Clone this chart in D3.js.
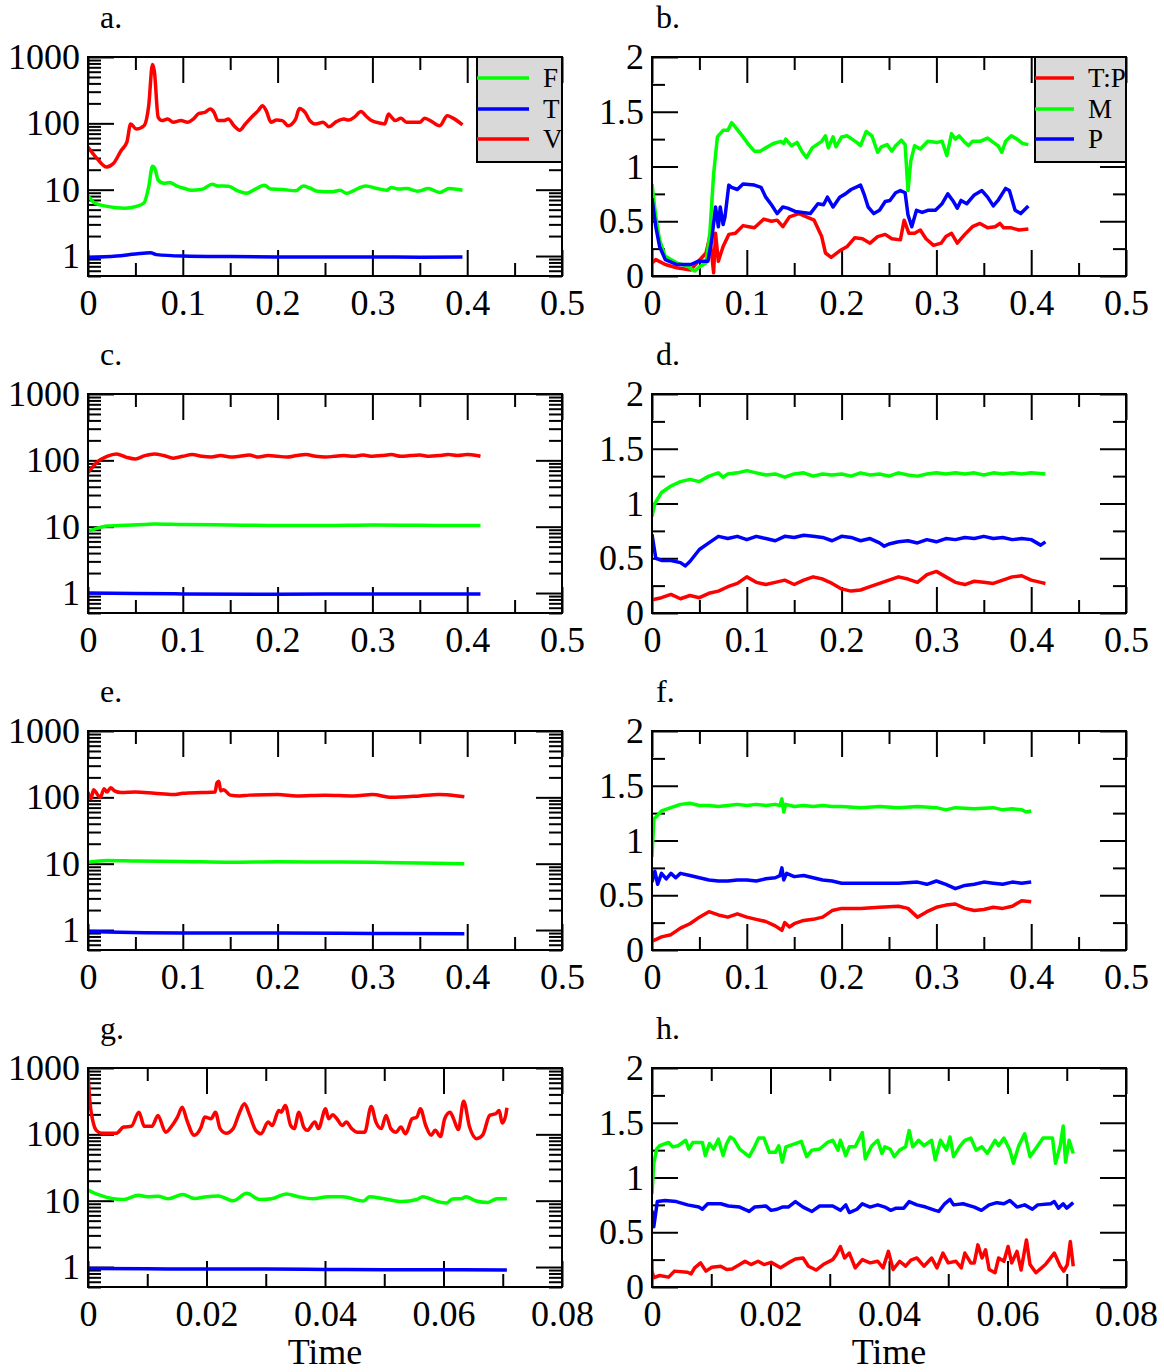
<!DOCTYPE html>
<html><head><meta charset="utf-8">
<script src="https://cdn.jsdelivr.net/npm/d3@7"></script>
<style>html,body{margin:0;padding:0;background:#fff}svg{display:block}</style>
</head><body>
<script>
// ---------- tick labels ----------
const xTicksLong = [0, 0.1, 0.2, 0.3, 0.4, 0.5];
const xTicksShort = [0, 0.02, 0.04, 0.06, 0.08];
const logTicks = [1, 10, 100, 1000];
const linTicks = [0, 0.5, 1, 1.5, 2];
const panelLetters = ["a.", "b.", "c.", "d.", "e.", "f.", "g.", "h."];
const legendA = ["F", "T", "V"];
const legendB = ["T:P", "M", "P"];
const xTitle = "Time";

// ---------- panel a ----------
const aV = [[0,44],[0.01,29],[0.0195,22],[0.027,25],[0.035,39],[0.041,52],[0.045,98],[0.051,82],[0.059,92],[0.064,183],[0.068,768],[0.070,611],[0.074,124],[0.078,110],[0.084,116],[0.090,104],[0.098,110],[0.105,104],[0.111,116],[0.117,141],[0.123,146],[0.129,164],[0.133,146],[0.137,110],[0.143,110],[0.148,116],[0.154,92],[0.160,79],[0.166,98],[0.174,130],[0.180,158],[0.184,184],[0.188,155],[0.193,104],[0.199,112],[0.205,110],[0.211,92],[0.219,116],[0.223,167],[0.229,146],[0.234,110],[0.240,98],[0.248,104],[0.254,89],[0.262,106],[0.270,116],[0.275,112],[0.281,124],[0.288,151],[0.293,130],[0.299,110],[0.309,100],[0.313,98],[0.317,138],[0.320,125],[0.324,110],[0.330,119],[0.336,104],[0.344,104],[0.350,104],[0.355,119],[0.361,110],[0.371,92],[0.379,130],[0.385,120],[0.395,95]];
const aF = [[0,8.2],[0.007,6.3],[0.02,5.6],[0.039,5.25],[0.051,5.6],[0.059,6.3],[0.064,11],[0.068,22.5],[0.071,20],[0.074,14],[0.080,12.5],[0.086,12.8],[0.094,11.3],[0.102,10.4],[0.109,9.8],[0.121,10.2],[0.131,12.1],[0.137,11.4],[0.148,11.3],[0.158,9.6],[0.167,8.8],[0.176,10.1],[0.186,11.7],[0.193,10.2],[0.205,10.1],[0.219,9.6],[0.227,11.4],[0.234,10.6],[0.242,9.5],[0.258,9.3],[0.266,9.8],[0.273,8.8],[0.281,9.8],[0.293,11.4],[0.305,10.4],[0.315,9.8],[0.320,10.8],[0.328,10.2],[0.336,10.4],[0.348,9.5],[0.359,10.4],[0.371,9.1],[0.381,10.4],[0.395,9.8]];
const aT = [[0,0.94],[0.03,1.0],[0.05,1.07],[0.066,1.12],[0.072,1.05],[0.1,1.0],[0.15,0.98],[0.2,0.97],[0.3,0.97],[0.35,0.96],[0.395,0.97]];

// ---------- panel b ----------
const bM = [[0,0.84],[0.004,0.54],[0.008,0.33],[0.014,0.18],[0.026,0.12],[0.037,0.09],[0.045,0.045],[0.051,0.09],[0.057,0.12],[0.061,0.39],[0.065,0.93],[0.069,1.27],[0.075,1.33],[0.080,1.33],[0.084,1.40],[0.088,1.36],[0.096,1.27],[0.102,1.20],[0.108,1.14],[0.114,1.14],[0.120,1.17],[0.128,1.21],[0.136,1.23],[0.139,1.21],[0.141,1.25],[0.147,1.19],[0.153,1.22],[0.158,1.14],[0.163,1.08],[0.169,1.17],[0.179,1.23],[0.183,1.28],[0.186,1.17],[0.191,1.27],[0.194,1.18],[0.200,1.27],[0.206,1.28],[0.216,1.22],[0.220,1.19],[0.226,1.32],[0.232,1.28],[0.238,1.13],[0.242,1.18],[0.248,1.20],[0.253,1.14],[0.257,1.19],[0.263,1.24],[0.267,1.20],[0.270,0.78],[0.273,1.05],[0.277,1.19],[0.283,1.16],[0.291,1.23],[0.301,1.22],[0.306,1.23],[0.311,1.10],[0.316,1.30],[0.320,1.25],[0.324,1.28],[0.330,1.22],[0.334,1.19],[0.338,1.23],[0.346,1.23],[0.354,1.26],[0.360,1.22],[0.365,1.19],[0.369,1.13],[0.373,1.23],[0.379,1.28],[0.385,1.25],[0.391,1.21],[0.397,1.20]];
const bP = [[0,0.71],[0.004,0.45],[0.008,0.27],[0.014,0.15],[0.026,0.105],[0.041,0.105],[0.049,0.135],[0.059,0.135],[0.063,0.33],[0.067,0.63],[0.070,0.45],[0.072,0.63],[0.075,0.47],[0.077,0.54],[0.081,0.83],[0.084,0.81],[0.090,0.79],[0.096,0.84],[0.108,0.83],[0.115,0.81],[0.120,0.72],[0.126,0.65],[0.132,0.57],[0.138,0.63],[0.143,0.62],[0.151,0.59],[0.167,0.57],[0.175,0.66],[0.181,0.65],[0.185,0.72],[0.191,0.63],[0.198,0.72],[0.204,0.75],[0.210,0.79],[0.220,0.83],[0.224,0.74],[0.228,0.63],[0.234,0.57],[0.240,0.60],[0.246,0.68],[0.251,0.69],[0.257,0.76],[0.262,0.78],[0.267,0.76],[0.270,0.56],[0.274,0.45],[0.279,0.60],[0.285,0.58],[0.291,0.60],[0.299,0.60],[0.306,0.66],[0.312,0.75],[0.318,0.68],[0.322,0.62],[0.326,0.69],[0.332,0.66],[0.340,0.74],[0.348,0.78],[0.354,0.72],[0.360,0.64],[0.365,0.69],[0.373,0.80],[0.377,0.78],[0.383,0.60],[0.389,0.57],[0.397,0.64]];
const bTP = [[0,0.12],[0.004,0.15],[0.014,0.105],[0.026,0.075],[0.041,0.055],[0.049,0.135],[0.057,0.21],[0.061,0.36],[0.065,0.03],[0.067,0.39],[0.070,0.135],[0.075,0.27],[0.081,0.38],[0.088,0.39],[0.096,0.46],[0.102,0.45],[0.108,0.44],[0.118,0.52],[0.126,0.50],[0.132,0.51],[0.138,0.45],[0.145,0.54],[0.155,0.57],[0.163,0.54],[0.171,0.51],[0.179,0.36],[0.183,0.21],[0.189,0.17],[0.198,0.23],[0.206,0.27],[0.214,0.35],[0.222,0.34],[0.230,0.30],[0.238,0.36],[0.246,0.38],[0.253,0.34],[0.262,0.33],[0.266,0.51],[0.271,0.39],[0.277,0.39],[0.283,0.42],[0.289,0.34],[0.297,0.28],[0.305,0.30],[0.310,0.36],[0.316,0.39],[0.322,0.30],[0.330,0.38],[0.338,0.45],[0.346,0.48],[0.354,0.44],[0.362,0.45],[0.367,0.48],[0.371,0.44],[0.379,0.44],[0.387,0.42],[0.397,0.43]];

// ---------- panel c ----------
const cV = [[0,65],[0.005,80],[0.01,95],[0.02,115],[0.03,125],[0.04,112],[0.05,105],[0.06,118],[0.07,125],[0.08,118],[0.09,108],[0.1,115],[0.11,122],[0.12,115],[0.13,112],[0.14,118],[0.15,112],[0.16,115],[0.17,120],[0.18,112],[0.19,118],[0.2,115],[0.21,112],[0.22,118],[0.23,122],[0.24,115],[0.25,112],[0.26,115],[0.27,118],[0.28,115],[0.29,120],[0.3,115],[0.31,118],[0.32,122],[0.33,115],[0.34,118],[0.35,120],[0.36,115],[0.37,118],[0.38,122],[0.39,118],[0.4,122],[0.41,118],[0.414,115]];
const cF = [[0,8.5],[0.01,9.5],[0.02,10.2],[0.04,10.5],[0.06,10.8],[0.07,11.0],[0.1,10.8],[0.15,10.6],[0.2,10.4],[0.25,10.4],[0.3,10.6],[0.35,10.5],[0.4,10.4],[0.414,10.4]];
const cT = [[0,1.0],[0.05,0.98],[0.1,0.97],[0.2,0.96],[0.3,0.97],[0.414,0.97]];

// ---------- panel d ----------
const dM = [[0,0.88],[0.003,1.0],[0.01,1.1],[0.02,1.16],[0.03,1.2],[0.04,1.22],[0.05,1.2],[0.06,1.25],[0.07,1.28],[0.075,1.24],[0.08,1.27],[0.09,1.28],[0.1,1.3],[0.11,1.28],[0.12,1.26],[0.13,1.27],[0.14,1.24],[0.15,1.27],[0.16,1.28],[0.17,1.25],[0.18,1.27],[0.19,1.26],[0.2,1.27],[0.21,1.25],[0.22,1.28],[0.23,1.26],[0.24,1.27],[0.25,1.25],[0.26,1.28],[0.27,1.26],[0.28,1.25],[0.29,1.27],[0.3,1.28],[0.31,1.27],[0.32,1.28],[0.33,1.27],[0.34,1.28],[0.35,1.26],[0.36,1.28],[0.37,1.27],[0.38,1.28],[0.39,1.27],[0.4,1.28],[0.415,1.27]];
const dP = [[0,0.72],[0.004,0.5],[0.01,0.48],[0.02,0.48],[0.03,0.46],[0.035,0.43],[0.04,0.47],[0.05,0.58],[0.06,0.64],[0.07,0.7],[0.08,0.68],[0.09,0.7],[0.1,0.67],[0.11,0.7],[0.12,0.68],[0.13,0.66],[0.14,0.7],[0.15,0.69],[0.16,0.71],[0.17,0.7],[0.18,0.69],[0.19,0.66],[0.2,0.7],[0.21,0.69],[0.22,0.66],[0.23,0.68],[0.24,0.64],[0.245,0.61],[0.25,0.63],[0.26,0.65],[0.27,0.66],[0.28,0.64],[0.29,0.67],[0.3,0.65],[0.31,0.68],[0.32,0.67],[0.33,0.69],[0.34,0.68],[0.35,0.7],[0.36,0.68],[0.37,0.69],[0.38,0.67],[0.39,0.68],[0.4,0.67],[0.41,0.62],[0.415,0.65]];
const dTP = [[0,0.12],[0.01,0.14],[0.02,0.17],[0.03,0.13],[0.04,0.16],[0.05,0.14],[0.06,0.18],[0.07,0.2],[0.08,0.24],[0.09,0.27],[0.1,0.33],[0.11,0.28],[0.12,0.26],[0.13,0.28],[0.14,0.3],[0.15,0.26],[0.16,0.3],[0.17,0.33],[0.18,0.31],[0.19,0.27],[0.2,0.22],[0.21,0.2],[0.22,0.21],[0.23,0.24],[0.24,0.27],[0.25,0.3],[0.26,0.33],[0.27,0.31],[0.28,0.28],[0.29,0.35],[0.3,0.38],[0.31,0.33],[0.32,0.28],[0.33,0.26],[0.34,0.29],[0.35,0.28],[0.36,0.27],[0.37,0.3],[0.38,0.33],[0.39,0.34],[0.4,0.3],[0.41,0.28],[0.415,0.27]];

// ---------- panel e ----------
const eV = [[0,120],[0.003,95],[0.006,130],[0.01,110],[0.013,100],[0.017,135],[0.02,120],[0.024,140],[0.028,125],[0.035,118],[0.05,120],[0.07,115],[0.09,110],[0.1,115],[0.12,118],[0.134,120],[0.136,165],[0.138,175],[0.14,125],[0.143,130],[0.15,108],[0.16,105],[0.17,108],[0.2,110],[0.22,105],[0.25,108],[0.28,105],[0.3,110],[0.32,100],[0.35,105],[0.37,110],[0.39,105],[0.397,102]];
const eF = [[0,10.5],[0.02,11.2],[0.05,11],[0.1,10.8],[0.15,10.5],[0.2,10.7],[0.25,10.6],[0.3,10.5],[0.35,10.2],[0.397,10.0]];
const eT = [[0,0.95],[0.02,0.93],[0.1,0.9],[0.2,0.9],[0.3,0.89],[0.397,0.88]];

// ---------- panel f ----------
const fM = [[0,0.85],[0.002,1.2],[0.005,1.22],[0.01,1.27],[0.02,1.3],[0.03,1.33],[0.04,1.34],[0.05,1.32],[0.06,1.32],[0.07,1.31],[0.08,1.32],[0.09,1.33],[0.1,1.32],[0.11,1.33],[0.12,1.32],[0.13,1.33],[0.135,1.32],[0.137,1.38],[0.139,1.26],[0.141,1.33],[0.15,1.31],[0.16,1.32],[0.17,1.31],[0.18,1.32],[0.19,1.31],[0.2,1.31],[0.22,1.3],[0.24,1.31],[0.26,1.3],[0.28,1.31],[0.3,1.3],[0.31,1.28],[0.32,1.3],[0.34,1.29],[0.36,1.3],[0.37,1.28],[0.38,1.29],[0.39,1.28],[0.395,1.26],[0.4,1.27]];
const fP = [[0,0.62],[0.003,0.72],[0.006,0.6],[0.01,0.7],[0.015,0.65],[0.02,0.7],[0.025,0.66],[0.03,0.7],[0.04,0.68],[0.05,0.66],[0.06,0.64],[0.07,0.63],[0.08,0.63],[0.09,0.64],[0.1,0.64],[0.11,0.63],[0.12,0.65],[0.13,0.66],[0.135,0.68],[0.137,0.75],[0.139,0.64],[0.142,0.7],[0.15,0.67],[0.16,0.68],[0.17,0.66],[0.18,0.64],[0.19,0.63],[0.2,0.61],[0.22,0.61],[0.24,0.61],[0.26,0.61],[0.28,0.62],[0.29,0.6],[0.3,0.63],[0.31,0.6],[0.32,0.56],[0.33,0.59],[0.34,0.6],[0.35,0.62],[0.36,0.61],[0.37,0.6],[0.38,0.62],[0.39,0.61],[0.4,0.62]];
const fTP = [[0,0.08],[0.005,0.1],[0.01,0.12],[0.02,0.14],[0.03,0.2],[0.04,0.24],[0.05,0.3],[0.06,0.35],[0.07,0.32],[0.08,0.3],[0.09,0.33],[0.1,0.3],[0.11,0.28],[0.12,0.26],[0.13,0.22],[0.137,0.18],[0.14,0.25],[0.145,0.21],[0.15,0.24],[0.16,0.27],[0.17,0.28],[0.18,0.3],[0.19,0.36],[0.2,0.38],[0.22,0.38],[0.24,0.39],[0.26,0.4],[0.27,0.38],[0.28,0.3],[0.29,0.35],[0.3,0.39],[0.31,0.41],[0.32,0.42],[0.33,0.38],[0.34,0.36],[0.35,0.37],[0.36,0.39],[0.37,0.38],[0.38,0.4],[0.39,0.45],[0.4,0.44]];

// ---------- panel g ----------
const gV = [[0,813],[0.0003,324],[0.0008,162],[0.0014,115],[0.0023,104],[0.0048,104],[0.006,129],[0.0073,132],[0.0086,216],[0.0095,132],[0.0108,132],[0.0118,193],[0.0131,108],[0.0142,136],[0.0151,182],[0.0159,257],[0.0167,162],[0.0179,97],[0.0191,129],[0.0197,182],[0.0208,172],[0.0215,216],[0.0223,122],[0.0233,104],[0.0245,122],[0.0256,216],[0.0264,288],[0.0273,193],[0.0283,115],[0.0292,102],[0.0304,153],[0.0311,136],[0.0322,229],[0.0326,216],[0.0333,272],[0.0342,136],[0.0348,122],[0.0356,216],[0.0364,129],[0.0370,115],[0.0383,153],[0.0389,122],[0.0401,243],[0.0406,172],[0.0413,197],[0.0420,172],[0.0429,136],[0.0436,153],[0.0445,122],[0.0454,108],[0.0467,108],[0.0478,263],[0.0486,153],[0.0495,122],[0.0503,193],[0.0511,122],[0.0520,108],[0.0528,129],[0.0536,102],[0.0547,172],[0.0555,182],[0.0561,243],[0.0570,136],[0.0579,97],[0.0586,115],[0.0595,93],[0.0602,172],[0.0611,216],[0.0617,172],[0.0625,118],[0.0634,316],[0.0644,129],[0.0656,86],[0.0666,97],[0.0678,193],[0.0688,204],[0.0694,229],[0.0699,148],[0.0705,193],[0.0707,251]];
const gF = [[0,14.5],[0.002,12.1],[0.004,10.8],[0.006,10.4],[0.0085,12.1],[0.01,11.5],[0.0118,11.7],[0.0135,10.7],[0.016,12.4],[0.018,10.8],[0.02,11.5],[0.022,11.8],[0.0245,10.0],[0.0268,12.9],[0.029,10.4],[0.031,10.7],[0.0335,12.6],[0.0355,11.5],[0.038,10.7],[0.0405,11.5],[0.043,11.5],[0.0465,9.9],[0.0475,11.5],[0.05,10.7],[0.053,9.7],[0.0555,10.4],[0.0565,11.5],[0.059,9.7],[0.0605,9.2],[0.0615,10.6],[0.063,10.7],[0.0638,11.5],[0.0655,9.9],[0.0675,9.4],[0.069,10.7],[0.0707,10.7]];
const gT = [[0,0.95],[0.01,0.94],[0.02,0.93],[0.03,0.93],[0.04,0.92],[0.05,0.91],[0.06,0.91],[0.0707,0.9]];

// ---------- panel h ----------
const hM = [[0,0.85],[0.0003,1.13],[0.0008,1.26],[0.0013,1.29],[0.0028,1.32],[0.0035,1.28],[0.0044,1.29],[0.0057,1.34],[0.0062,1.26],[0.0069,1.32],[0.0085,1.32],[0.009,1.20],[0.0097,1.31],[0.0104,1.26],[0.0112,1.35],[0.012,1.20],[0.0126,1.31],[0.0132,1.37],[0.0138,1.35],[0.0148,1.26],[0.0164,1.19],[0.0173,1.28],[0.018,1.36],[0.0189,1.36],[0.0198,1.23],[0.0208,1.23],[0.0214,1.29],[0.022,1.14],[0.0226,1.28],[0.0242,1.31],[0.0252,1.33],[0.0261,1.19],[0.027,1.25],[0.0283,1.26],[0.0296,1.32],[0.0305,1.34],[0.0314,1.25],[0.0318,1.34],[0.0327,1.20],[0.0333,1.28],[0.0343,1.28],[0.0355,1.41],[0.036,1.17],[0.0371,1.29],[0.0381,1.34],[0.0388,1.22],[0.0393,1.28],[0.0402,1.26],[0.0409,1.19],[0.0418,1.25],[0.0428,1.28],[0.0434,1.43],[0.044,1.28],[0.045,1.34],[0.0459,1.29],[0.0472,1.34],[0.0478,1.16],[0.0487,1.34],[0.0497,1.25],[0.0503,1.37],[0.0509,1.19],[0.0519,1.28],[0.0528,1.34],[0.0538,1.36],[0.0547,1.25],[0.0557,1.28],[0.0566,1.22],[0.0579,1.34],[0.0585,1.29],[0.0594,1.36],[0.0604,1.25],[0.061,1.13],[0.0619,1.29],[0.0629,1.40],[0.0638,1.19],[0.0651,1.29],[0.066,1.36],[0.0676,1.36],[0.0681,1.13],[0.0689,1.29],[0.0694,1.47],[0.0698,1.14],[0.0704,1.34],[0.0711,1.22]];
const hP = [[0,0.70],[0.0003,0.55],[0.0009,0.78],[0.0022,0.79],[0.0041,0.78],[0.006,0.75],[0.0079,0.73],[0.0085,0.71],[0.0094,0.76],[0.0116,0.76],[0.0129,0.74],[0.0148,0.73],[0.0164,0.69],[0.0173,0.73],[0.0192,0.74],[0.0201,0.70],[0.0211,0.71],[0.022,0.73],[0.023,0.73],[0.0242,0.78],[0.0255,0.73],[0.027,0.69],[0.0283,0.74],[0.0305,0.74],[0.0318,0.70],[0.0327,0.75],[0.0333,0.68],[0.0346,0.71],[0.0355,0.76],[0.0368,0.73],[0.0381,0.75],[0.0393,0.73],[0.0403,0.70],[0.0412,0.72],[0.0425,0.72],[0.0434,0.78],[0.0447,0.75],[0.0462,0.73],[0.0478,0.70],[0.0484,0.69],[0.0494,0.76],[0.0503,0.80],[0.0509,0.75],[0.0525,0.76],[0.0544,0.73],[0.0556,0.70],[0.0569,0.75],[0.0582,0.77],[0.0594,0.76],[0.0604,0.79],[0.0616,0.73],[0.0629,0.75],[0.0642,0.71],[0.0651,0.75],[0.0673,0.76],[0.0679,0.78],[0.0686,0.72],[0.0694,0.76],[0.07,0.72],[0.0711,0.77]];
const hTP = [[0,0.145],[0.0003,0.085],[0.0013,0.105],[0.0028,0.09],[0.0038,0.145],[0.006,0.135],[0.0066,0.12],[0.0072,0.175],[0.0082,0.22],[0.0091,0.145],[0.0101,0.18],[0.0116,0.19],[0.0126,0.16],[0.0135,0.165],[0.0148,0.205],[0.0157,0.235],[0.0167,0.205],[0.0179,0.235],[0.0189,0.205],[0.0201,0.225],[0.0217,0.175],[0.023,0.22],[0.0242,0.255],[0.0255,0.265],[0.0264,0.19],[0.0277,0.155],[0.0289,0.205],[0.0305,0.25],[0.0311,0.295],[0.0318,0.37],[0.0325,0.265],[0.0333,0.31],[0.0343,0.175],[0.0355,0.25],[0.0368,0.22],[0.0381,0.235],[0.039,0.175],[0.0399,0.325],[0.0407,0.16],[0.0418,0.235],[0.0428,0.19],[0.0437,0.245],[0.0447,0.265],[0.0459,0.19],[0.0472,0.265],[0.0481,0.175],[0.0491,0.31],[0.05,0.22],[0.0513,0.235],[0.0522,0.175],[0.0528,0.31],[0.0538,0.22],[0.0544,0.22],[0.055,0.385],[0.0557,0.265],[0.0563,0.34],[0.0569,0.16],[0.0579,0.13],[0.0585,0.265],[0.0594,0.235],[0.0601,0.37],[0.0607,0.22],[0.0616,0.325],[0.0623,0.155],[0.0632,0.43],[0.0638,0.205],[0.0648,0.13],[0.0664,0.205],[0.0679,0.31],[0.0689,0.19],[0.0695,0.145],[0.0701,0.205],[0.0706,0.415],[0.0711,0.19]];

// ---------- layout & style ----------
const W = 1164, H = 1372;
const colX = [88, 652], rowY = [57, 394, 731, 1068];
const PW = 474, PH = 219;
const RED = "#ff0000", GREEN = "#00ff00", BLUE = "#0000ff";
const FONT = "'Liberation Serif','Times New Roman',Times,serif";
const TICKFS = 36;

const panels = [
  {col:0,row:0,log:true, xt:xTicksLong, series:[[aF,GREEN],[aT,BLUE],[aV,RED]], legend:{names:legendA, colors:[GREEN,BLUE,RED], w:85, line:52, tx:66}},
  {col:1,row:0,log:false,xt:xTicksLong, series:[[bTP,RED],[bM,GREEN],[bP,BLUE]], legend:{names:legendB, colors:[RED,GREEN,BLUE], w:91, line:39, tx:53}},
  {col:0,row:1,log:true, xt:xTicksLong, series:[[cF,GREEN],[cT,BLUE],[cV,RED]]},
  {col:1,row:1,log:false,xt:xTicksLong, series:[[dTP,RED],[dM,GREEN],[dP,BLUE]]},
  {col:0,row:2,log:true, xt:xTicksLong, series:[[eF,GREEN],[eT,BLUE],[eV,RED]]},
  {col:1,row:2,log:false,xt:xTicksLong, series:[[fTP,RED],[fM,GREEN],[fP,BLUE]]},
  {col:0,row:3,log:true, xt:xTicksShort, series:[[gF,GREEN],[gT,BLUE],[gV,RED]], title:true},
  {col:1,row:3,log:false,xt:xTicksShort, series:[[hTP,RED],[hM,GREEN],[hP,BLUE]], title:true}
];

const svg = d3.select("body").append("svg").attr("width", W).attr("height", H)
  .style("font-family", FONT);
svg.append("rect").attr("width", W).attr("height", H).attr("fill", "#fff");

const fmt = d => String(+d.toFixed(4));

panels.forEach((p, i) => {
  const x0 = colX[p.col], y0 = rowY[p.row];
  const g = svg.append("g").attr("transform", `translate(${x0},${y0})`);
  const xMax = p.xt[p.xt.length - 1];
  const x = d3.scaleLinear().domain([0, xMax]).range([0, PW]);
  const y = p.log ? d3.scaleLog().domain([0.5, 1000]).range([PH, 0])
                  : d3.scaleLinear().domain([0, 2]).range([PH, 0]);

  const step = p.xt[1] - p.xt[0];
  const xMinor = d3.range(0, xMax + 1e-9, step / 2).filter(v => !p.xt.some(t => Math.abs(t - v) < 1e-9) && v < xMax - 1e-9);
  let yMajor, yMinor;
  if (p.log) {
    yMajor = logTicks;
    yMinor = [];
    [0.1, 1, 10, 100].forEach(dec => { for (let k = 2; k <= 9; k++) { const v = k * dec; if (v >= 0.5 - 1e-9 && v < 1000) yMinor.push(v); } });
  } else {
    yMajor = linTicks;
    yMinor = [0.25, 0.75, 1.25, 1.75];
  }

  const styleAxis = sel => {
    sel.attr("font-family", FONT);
    sel.select(".domain").remove();
    sel.selectAll("line").attr("stroke", "#000").attr("stroke-width", 2);
    sel.selectAll("text").attr("font-size", TICKFS).attr("fill", "#000").attr("font-family", FONT);
  };
  g.append("g").attr("transform", `translate(0,${PH})`)
    .call(d3.axisBottom(x).tickValues(p.xt).tickSize(-26).tickPadding(13).tickFormat(fmt)).call(styleAxis);
  g.append("g").attr("transform", `translate(0,${PH})`)
    .call(d3.axisBottom(x).tickValues(xMinor).tickSize(-13).tickFormat("")).call(styleAxis);
  g.append("g").call(d3.axisTop(x).tickValues(p.xt).tickSize(-26).tickFormat("")).call(styleAxis);
  g.append("g").call(d3.axisTop(x).tickValues(xMinor).tickSize(-13).tickFormat("")).call(styleAxis);
  g.append("g").call(d3.axisLeft(y).tickValues(yMajor).tickSize(-26).tickPadding(8).tickFormat(fmt)).call(styleAxis);
  g.append("g").call(d3.axisLeft(y).tickValues(yMinor).tickSize(-13).tickFormat("")).call(styleAxis);
  g.append("g").attr("transform", `translate(${PW},0)`)
    .call(d3.axisRight(y).tickValues(yMajor).tickSize(-26).tickFormat("")).call(styleAxis);
  g.append("g").attr("transform", `translate(${PW},0)`)
    .call(d3.axisRight(y).tickValues(yMinor).tickSize(-13).tickFormat("")).call(styleAxis);

  const clipId = "clip" + i;
  g.append("clipPath").attr("id", clipId).append("rect").attr("width", PW).attr("height", PH);
  const line = d3.line().x(d => x(d[0])).y(d => y(d[1]))
    .curve(p.log ? d3.curveMonotoneX : d3.curveLinear);
  const dg = g.append("g").attr("clip-path", `url(#${clipId})`);
  p.series.forEach(([data, color]) => {
    dg.append("path").datum(data).attr("d", line).attr("fill", "none")
      .attr("stroke", color).attr("stroke-width", 3.5).attr("stroke-linejoin", "round");
  });

  g.append("rect").attr("width", PW).attr("height", PH).attr("fill", "none")
    .attr("stroke", "#000").attr("stroke-width", 2);

  if (p.legend) {
    const L = p.legend;
    const lg = g.append("g").attr("transform", `translate(${PW - L.w},0)`);
    lg.append("rect").attr("width", L.w).attr("height", 105).attr("fill", "#d9d9d9")
      .attr("stroke", "#000").attr("stroke-width", 2);
    const ly = [21, 52, 82];
    L.names.forEach((n, k) => {
      lg.append("line").attr("x1", 0).attr("x2", L.line).attr("y1", ly[k]).attr("y2", ly[k])
        .attr("stroke", L.colors[k]).attr("stroke-width", 3.5);
      lg.append("text").attr("x", L.tx).attr("y", ly[k]).attr("dy", "0.35em")
        .attr("font-size", 27).attr("fill", "#000").text(n);
    });
  }

  svg.append("text").attr("x", x0 + (p.col === 0 ? 12 : 4)).attr("y", y0 - 29)
    .attr("font-size", 32).attr("fill", "#000").text(panelLetters[i]);

  if (p.title) {
    svg.append("text").attr("x", x0 + PW / 2).attr("y", y0 + PH + 77)
      .attr("text-anchor", "middle").attr("font-size", TICKFS).attr("fill", "#000").text(xTitle);
  }
});
</script>
</body></html>
